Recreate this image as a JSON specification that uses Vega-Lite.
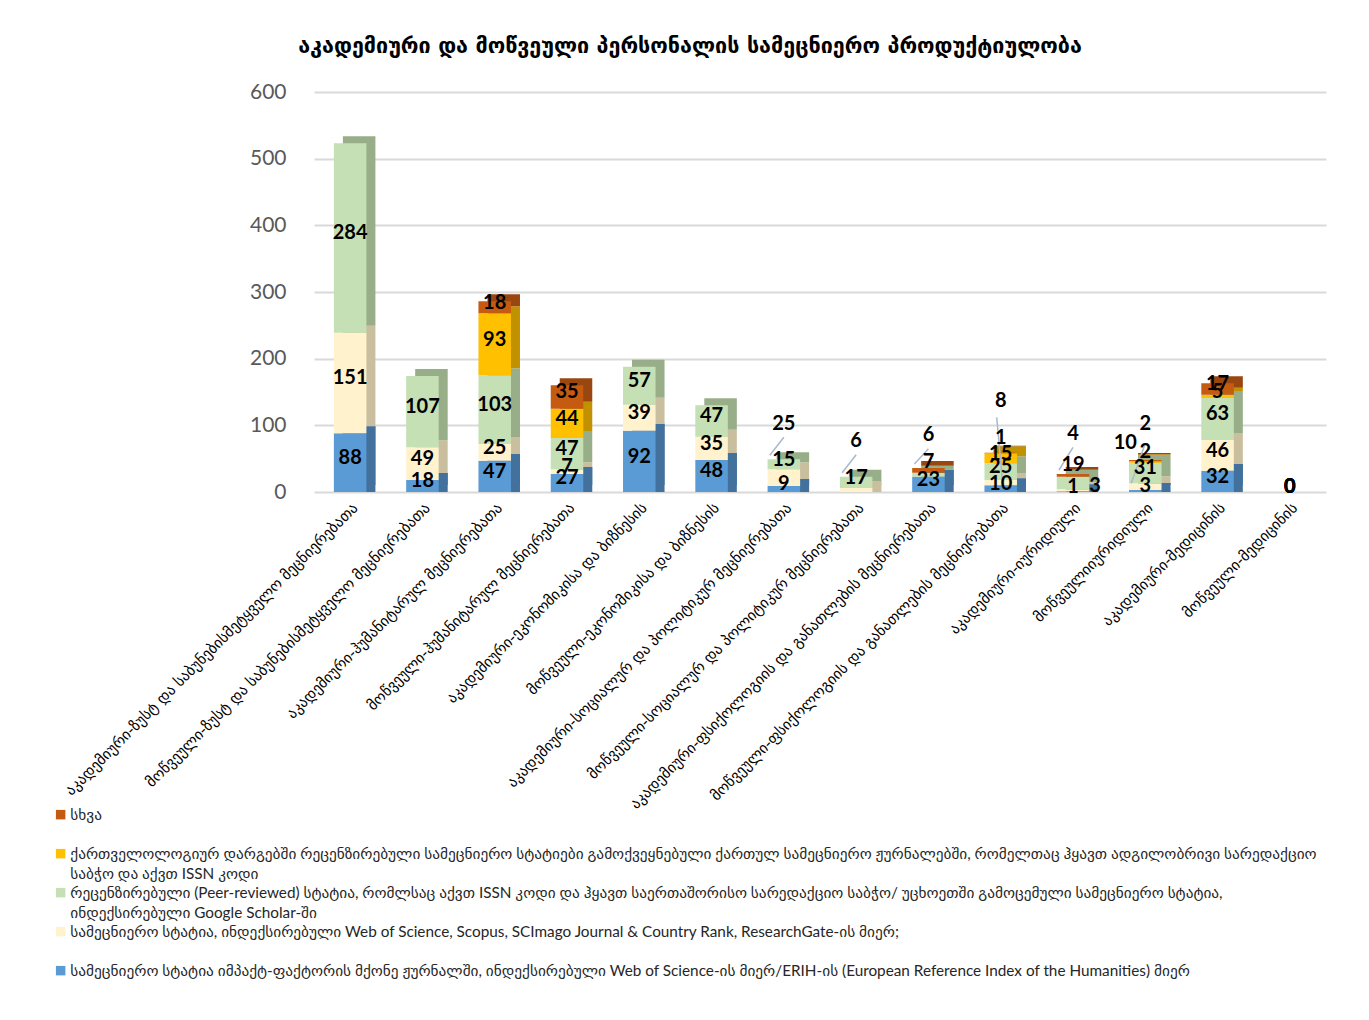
{
  "$schema": "https://vega.github.io/schema/vega-lite/v6.json",
  "width": 1012,
  "height": 400,
  "autosize": {"type": "none"},
  "padding": {"left": 314, "top": 92, "right": 43, "bottom": 528},
  "background": "white",
  "config": {"view": {"stroke": null}, "style": {"guide-label": {"lineHeight": 20}}},
  "title": {
    "text": "აკადემიური და მოწვეული პერსონალის სამეცნიერო პროდუქტიულობა",
    "fontSize": 21.5, "fontWeight": "bold", "font": "DejaVu Sans", "color": "black",
    "anchor": "middle", "dx": -130, "offset": 24
  },
  "datasets": {
    "cats": [
      {"i": 1, "c": "აკადემიური-ზუსტ და საბუნებისმეტყველო მეცნიერებათა"},
      {"i": 2, "c": "მოწვეული-ზუსტ და საბუნებისმეტყველო მეცნიერებათა"},
      {"i": 3, "c": "აკადემიური-ჰუმანიტარულ მეცნიერებათა"},
      {"i": 4, "c": "მოწვეული-ჰუმანიტარულ მეცნიერებათა"},
      {"i": 5, "c": "აკადემიური-ეკონომიკისა და ბიზნესის"},
      {"i": 6, "c": "მოწვეული-ეკონომიკისა და ბიზნესის"},
      {"i": 7, "c": "აკადემიური-სოციალურ და პოლიტიკურ მეცნიერებათა"},
      {"i": 8, "c": "მოწვეული-სოციალურ და პოლიტიკურ მეცნიერებათა"},
      {"i": 9, "c": "აკადემიური-ფსიქოლოგიის და განათლების მეცნიერებათა"},
      {"i": 10, "c": "მოწვეული-ფსიქოლოგიის და განათლების მეცნიერებათა"},
      {"i": 11, "c": "აკადემიური-იურიდიული"},
      {"i": 12, "c": "მოწვეულიიურიდიული"},
      {"i": 13, "c": "აკადემიური-მედიცინის"},
      {"i": 14, "c": "მოწვეული-მედიცინის"}
    ],
    "series": [
      {"k": 1, "s": "სამეცნიერო სტატია იმპაქტ-ფაქტორის მქონე ჟურნალში,  ინდექსირებული Web of Science-ის მიერ/ERIH-ის (European Reference Index of the Humanities) მიერ"},
      {"k": 2, "s": "სამეცნიერო სტატია, ინდექსირებული Web of Science, Scopus, SCImago Journal & Country Rank, ResearchGate-ის მიერ;"},
      {"k": 3, "s": "რეცენზირებული (Peer-reviewed) სტატია,  რომლსაც აქვთ ISSN კოდი და ჰყავთ საერთაშორისო სარედაქციო საბჭო/ უცხოეთში გამოცემული სამეცნიერო სტატია, ინდექსირებული Google Scholar-ში"},
      {"k": 4, "s": "ქართველოლოგიურ დარგებში რეცენზირებული სამეცნიერო სტატიები გამოქვეყნებული ქართულ სამეცნიერო ჟურნალებში, რომელთაც ჰყავთ ადგილობრივი სარედაქციო საბჭო და აქვთ ISSN კოდი"},
      {"k": 5, "s": "სხვა"}
    ]
  },
  "data": {"values": [
    {"i": 1, "k": 1, "v": 88}, {"i": 1, "k": 2, "v": 151}, {"i": 1, "k": 3, "v": 284}, {"i": 1, "k": 4, "v": 0}, {"i": 1, "k": 5, "v": 0},
    {"i": 2, "k": 1, "v": 18}, {"i": 2, "k": 2, "v": 49}, {"i": 2, "k": 3, "v": 107}, {"i": 2, "k": 4, "v": 0}, {"i": 2, "k": 5, "v": 0},
    {"i": 3, "k": 1, "v": 47}, {"i": 3, "k": 2, "v": 25}, {"i": 3, "k": 3, "v": 103}, {"i": 3, "k": 4, "v": 93}, {"i": 3, "k": 5, "v": 18},
    {"i": 4, "k": 1, "v": 27}, {"i": 4, "k": 2, "v": 7}, {"i": 4, "k": 3, "v": 47}, {"i": 4, "k": 4, "v": 44}, {"i": 4, "k": 5, "v": 35},
    {"i": 5, "k": 1, "v": 92}, {"i": 5, "k": 2, "v": 39}, {"i": 5, "k": 3, "v": 57}, {"i": 5, "k": 4, "v": 0}, {"i": 5, "k": 5, "v": 0},
    {"i": 6, "k": 1, "v": 48}, {"i": 6, "k": 2, "v": 35}, {"i": 6, "k": 3, "v": 47}, {"i": 6, "k": 4, "v": 0}, {"i": 6, "k": 5, "v": 0},
    {"i": 7, "k": 1, "v": 9}, {"i": 7, "k": 2, "v": 25}, {"i": 7, "k": 3, "v": 15}, {"i": 7, "k": 4, "v": 0}, {"i": 7, "k": 5, "v": 0},
    {"i": 8, "k": 1, "v": 0}, {"i": 8, "k": 2, "v": 6}, {"i": 8, "k": 3, "v": 17}, {"i": 8, "k": 4, "v": 0}, {"i": 8, "k": 5, "v": 0},
    {"i": 9, "k": 1, "v": 23}, {"i": 9, "k": 2, "v": 0}, {"i": 9, "k": 3, "v": 6}, {"i": 9, "k": 4, "v": 0}, {"i": 9, "k": 5, "v": 7},
    {"i": 10, "k": 1, "v": 10}, {"i": 10, "k": 2, "v": 8}, {"i": 10, "k": 3, "v": 25}, {"i": 10, "k": 4, "v": 15}, {"i": 10, "k": 5, "v": 1},
    {"i": 11, "k": 1, "v": 1}, {"i": 11, "k": 2, "v": 3}, {"i": 11, "k": 3, "v": 19}, {"i": 11, "k": 4, "v": 0}, {"i": 11, "k": 5, "v": 4},
    {"i": 12, "k": 1, "v": 3}, {"i": 12, "k": 2, "v": 10}, {"i": 12, "k": 3, "v": 31}, {"i": 12, "k": 4, "v": 2}, {"i": 12, "k": 5, "v": 2},
    {"i": 13, "k": 1, "v": 32}, {"i": 13, "k": 2, "v": 46}, {"i": 13, "k": 3, "v": 63}, {"i": 13, "k": 4, "v": 5}, {"i": 13, "k": 5, "v": 17},
    {"i": 14, "k": 1, "v": 0}, {"i": 14, "k": 2, "v": 0}, {"i": 14, "k": 3, "v": 0}, {"i": 14, "k": 4, "v": 0}, {"i": 14, "k": 5, "v": 0}
  ]},
  "transform": [
    {"lookup": "i", "from": {"data": {"name": "cats"}, "key": "i", "fields": ["c"]}},
    {"lookup": "k", "from": {"data": {"name": "series"}, "key": "k", "fields": ["s"]}},
    {"stack": "v", "groupby": ["i"], "sort": [{"field": "k", "order": "ascending"}], "as": ["y0", "y1"]},
    {"calculate": "(datum.y0 + datum.y1) / 2", "as": "ym"}
  ],
  "encoding": {
    "x": {
      "field": "c", "type": "nominal", "sort": {"field": "i", "op": "min"},
      "scale": {"paddingInner": 0.55, "paddingOuter": 0.275},
      "axis": {
        "title": null, "labelAngle": -45, "labelFontSize": 15, "labelFont": "DejaVu Sans",
        "labelColor": "black", "domain": false, "ticks": false, "labelLimit": 600, "labelPadding": 8
      }
    }
  },
  "layer": [
    {
      "transform": [{"filter": "datum.y0 == 0 && datum.v > 0"}],
      "mark": {"type": "bar", "xOffset": 9, "yOffset": -7, "y2Offset": 0},
      "encoding": {
        "y": {
          "field": "y1", "type": "quantitative", "scale": {"domain": [0, 600]},
          "axis": {
            "title": null, "values": [0, 100, 200, 300, 400, 500, 600],
            "labelFontSize": 21, "labelFont": "Lato, DejaVu Sans", "labelColor": "#595959",
            "domain": false, "ticks": false, "labelPadding": 28,
            "gridColor": "#D9D9D9", "gridWidth": 2
          }
        },
        "y2": {"field": "y0"},
        "color": {
          "field": "k", "type": "nominal",
          "scale": {"domain": [5, 4, 3, 2, 1], "range": ["#9A4610", "#C29100", "#97AE88", "#C9BE9E", "#41719C"]},
          "legend": null
        }
      }
    },
    {
      "mark": {"type": "bar", "xOffset": 9, "yOffset": -7, "y2Offset": -7},
      "encoding": {
        "y": {"field": "y1", "type": "quantitative"},
        "y2": {"field": "y0"},
        "color": {
          "field": "k", "type": "nominal",
          "scale": {"domain": [5, 4, 3, 2, 1], "range": ["#9A4610", "#C29100", "#97AE88", "#C9BE9E", "#41719C"]},
          "legend": null
        }
      }
    },
    {
      "mark": {"type": "bar"},
      "encoding": {
        "y": {"field": "y1", "type": "quantitative"},
        "y2": {"field": "y0"},
        "color": {
          "field": "s", "type": "nominal",
          "scale": {
            "domain": [
              "სხვა",
              "ქართველოლოგიურ დარგებში რეცენზირებული სამეცნიერო სტატიები გამოქვეყნებული ქართულ სამეცნიერო ჟურნალებში, რომელთაც ჰყავთ ადგილობრივი სარედაქციო საბჭო და აქვთ ISSN კოდი",
              "რეცენზირებული (Peer-reviewed) სტატია,  რომლსაც აქვთ ISSN კოდი და ჰყავთ საერთაშორისო სარედაქციო საბჭო/ უცხოეთში გამოცემული სამეცნიერო სტატია, ინდექსირებული Google Scholar-ში",
              "სამეცნიერო სტატია, ინდექსირებული Web of Science, Scopus, SCImago Journal & Country Rank, ResearchGate-ის მიერ;",
              "სამეცნიერო სტატია იმპაქტ-ფაქტორის მქონე ჟურნალში,  ინდექსირებული Web of Science-ის მიერ/ERIH-ის (European Reference Index of the Humanities) მიერ"
            ],
            "range": ["#C55A11", "#FFC000", "#C5E0B4", "#FFF2CC", "#5B9BD5"]
          },
          "legend": {
            "title": null, "orient": "none", "legendX": -261, "legendY": 715,
            "direction": "vertical", "columns": 1,
            "symbolType": "square", "symbolSize": 90, "symbolStrokeWidth": 0,
            "labelFontSize": 15.3, "labelFont": "Lato, DejaVu Sans", "labelColor": "#262626",
            "labelLimit": 1300, "rowPadding": 3, "labelOffset": 2,
            "labelExpr": "datum.label == 'სხვა' ? ['სხვა', ''] : indexof(datum.label, 'ქართველოლოგიურ') == 0 ? ['ქართველოლოგიურ დარგებში რეცენზირებული სამეცნიერო სტატიები გამოქვეყნებული ქართულ სამეცნიერო ჟურნალებში, რომელთაც ჰყავთ ადგილობრივი სარედაქციო', 'საბჭო და აქვთ ISSN კოდი'] : indexof(datum.label, 'რეცენზირებული (Peer') == 0 ? ['რეცენზირებული (Peer-reviewed) სტატია,  რომლსაც აქვთ ISSN კოდი და ჰყავთ საერთაშორისო სარედაქციო საბჭო/ უცხოეთში გამოცემული სამეცნიერო სტატია,', 'ინდექსირებული Google Scholar-ში'] : [datum.label, '']"
          }
        }
      }
    },
    {
      "transform": [
        {"filter": "(datum.i == 7 && datum.k == 2) || (datum.i == 8 && datum.k == 2) || (datum.i == 9 && datum.k == 3) || (datum.i == 11 && datum.k == 5) || (datum.i == 12 && datum.k == 2)"},
        {"calculate": "datum.i == 7 ? 82 : datum.i == 8 ? 56 : datum.i == 9 ? 65 : datum.i == 11 ? 67 : 73", "as": "la"},
        {"calculate": "datum.i == 7 ? 55 : datum.i == 8 ? 29 : datum.i == 9 ? 42 : datum.i == 11 ? 33 : 13", "as": "lb"}
      ],
      "mark": {"type": "rule", "color": "#A9B8D0", "strokeWidth": 1.5, "xOffset": 0, "x2Offset": -14},
      "encoding": {
        "x2": {"field": "c"},
        "y": {"field": "la", "type": "quantitative"},
        "y2": {"field": "lb"}
      }
    },
    {
      "transform": [
        {"filter": "datum.i == 10 && datum.k == 2"},
        {"calculate": "112", "as": "la"},
        {"calculate": "12", "as": "lb"}
      ],
      "mark": {"type": "rule", "color": "#A9B8D0", "strokeWidth": 1.5, "xOffset": -4, "x2Offset": 2},
      "encoding": {
        "x2": {"field": "c"},
        "y": {"field": "la", "type": "quantitative"},
        "y2": {"field": "lb"}
      }
    },
    {
      "transform": [
        {"filter": "(datum.v > 0 || datum.i == 14) && !(datum.i == 11 && datum.k == 2) && !(datum.i == 12 && datum.k == 2)"},
        {"calculate": "datum.i == 7 && datum.k == 2 ? 102 : datum.i == 8 && datum.k == 2 ? 76 : datum.i == 9 && datum.k == 3 ? 85 : datum.i == 9 && datum.k == 5 ? 45 : datum.i == 10 && datum.k == 2 ? 136 : datum.i == 10 && datum.k == 5 ? 81 : datum.i == 11 && datum.k == 5 ? 87 : datum.i == 11 && datum.k == 3 ? 40 : datum.i == 12 && datum.k == 4 ? 102 : datum.i == 12 && datum.k == 5 ? 60 : datum.ym + 7", "as": "ly"}
      ],
      "mark": {"type": "text", "fontSize": 20, "fontWeight": "bold", "font": "Lato, DejaVu Sans", "color": "black", "baseline": "middle"},
      "encoding": {
        "y": {"field": "ly", "type": "quantitative"},
        "text": {"field": "v", "type": "quantitative"}
      }
    },
    {
      "transform": [{"filter": "datum.i == 11 && datum.k == 2"}, {"calculate": "datum.ym + 7", "as": "ly"}],
      "mark": {"type": "text", "fontSize": 20, "fontWeight": "bold", "font": "Lato, DejaVu Sans", "color": "black", "baseline": "middle", "dx": 22},
      "encoding": {
        "y": {"field": "ly", "type": "quantitative"},
        "text": {"field": "v", "type": "quantitative"}
      }
    },
    {
      "transform": [{"filter": "datum.i == 12 && datum.k == 2"}, {"calculate": "73", "as": "ly"}],
      "mark": {"type": "text", "fontSize": 20, "fontWeight": "bold", "font": "Lato, DejaVu Sans", "color": "black", "baseline": "middle", "dx": -20},
      "encoding": {
        "y": {"field": "ly", "type": "quantitative"},
        "text": {"field": "v", "type": "quantitative"}
      }
    }
  ],
  "resolve": {"scale": {"color": "independent"}}
}
